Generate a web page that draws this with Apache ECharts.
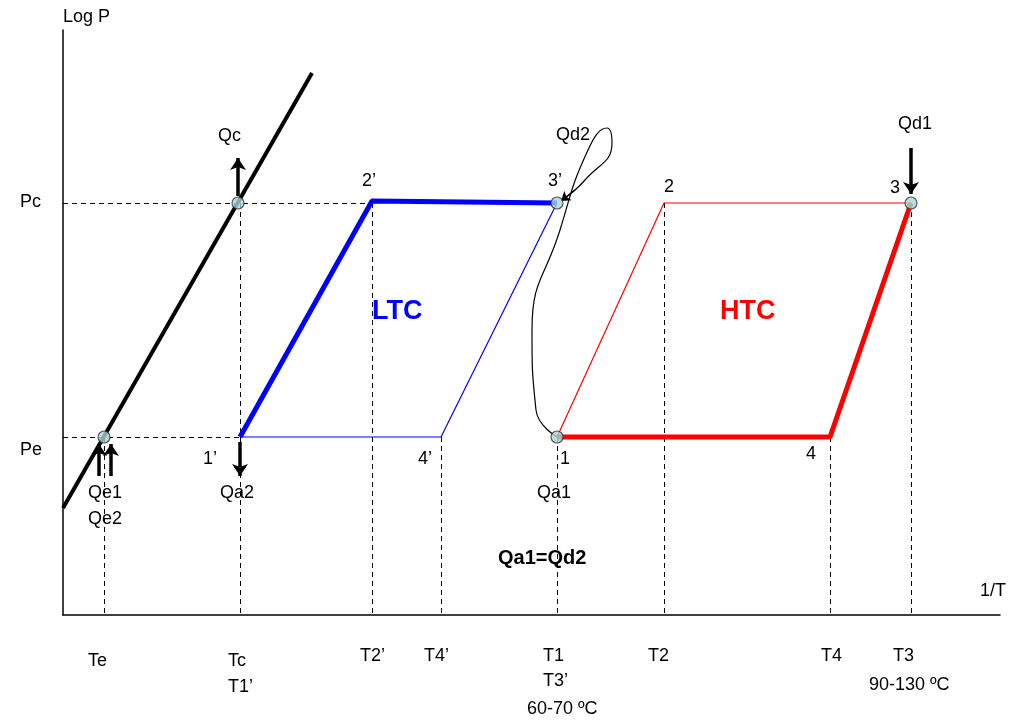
<!DOCTYPE html><html><head><meta charset="utf-8">
<script src="https://cdn.jsdelivr.net/npm/echarts@6/dist/echarts.min.js"></script>
<style>html,body{margin:0;background:#fff}#c{width:1024px;height:725px}</style></head><body><div id="c"></div>
<script>
// schematic coordinates: x = horizontal position, y = height above bottom (pixel-like units)
const Y = p => 725 - p;
const satLine = [[63, Y(508)], [312, Y(73)]];
const ltcThick = [[240, Y(437)], [372, Y(201)], [557, Y(203)]];
const ltcThin = [[557, Y(203)], [441, Y(437)], [240, Y(437)]];
const htcThick = [[911, Y(203)], [830, Y(437)], [557, Y(437)]];
const htcThin = [[557, Y(437)], [664, Y(203)], [911, Y(203)]];
const loopCurve = [[557, Y(437)], [536, Y(410)], [532, Y(330)], [560, Y(230)], [588, Y(150)], [607, Y(128)], [612, Y(143)], [585, Y(180)], [562, Y(200)]];
const dashed = [
  [[63, Y(203)], [372, Y(203)]], [[63, Y(437)], [240, Y(437)]],
  [[104, Y(437)], [104, Y(615)]], [[240, Y(203)], [240, Y(615)]],
  [[372, Y(203)], [372, Y(615)]], [[441, Y(437)], [441, Y(615)]],
  [[557, Y(437)], [557, Y(615)]], [[664, Y(203)], [664, Y(615)]],
  [[830, Y(437)], [830, Y(615)]], [[911, Y(203)], [911, Y(615)]]
];
const arrows = [
  [[238, Y(196)], [238, Y(158)]], [[240, Y(442)], [240, Y(476)]],
  [[911, Y(148)], [911, Y(194)]], [[99, Y(476)], [99, Y(444)]], [[111, Y(476)], [111, Y(444)]]
];
const nodes = [[238, Y(203)], [104, Y(437)], [557, Y(203)], [557, Y(437)], [911, Y(203)]];
const texts = [
  ['Log P', 63, 18], ['Pc', 20, 203], ['Pe', 20, 451], ['1/T', 980, 592],
  ['Te', 88, 662], ['Tc', 228, 662], ['T1’', 228, 688], ['T2’', 360, 657], ['T4’', 424, 657],
  ['T1', 543, 657], ['T3’', 543, 682], ['60-70 ºC', 527, 710], ['T2', 648, 657], ['T4', 821, 657],
  ['T3', 893, 657], ['90-130 ºC', 869, 686],
  ['Qc', 218, 137], ['2’', 362, 182], ['3’', 548, 182], ['Qd2', 556, 136], ['2', 664, 188],
  ['3', 890, 189], ['Qd1', 898, 125], ['1’', 203, 460], ['4’', 418, 460], ['1', 560, 460],
  ['4', 806, 455], ['Qe1', 88, 494], ['Qe2', 88, 520], ['Qa2', 220, 494], ['Qa1', 537, 494]
];
const bold = [['LTC', 372, 312, '#0000ff', 27], ['HTC', 720, 312, '#ff0000', 27], ['Qa1=Qd2', 498, 558, '#000', 20]];

const ch = echarts.init(document.getElementById('c'));
const seg = (d, c, w, t) => ({type: 'line', data: d, symbol: 'none', lineStyle: {color: c, width: w, type: t || 'solid'}, silent: true, z: 3});
const series = [
  seg(satLine, '#000', 4), seg(ltcThick, '#0000ff', 5), seg(ltcThin, '#0000ff', 1.2),
  seg(htcThick, '#ff0000', 5), seg(htcThin, '#ff0000', 1.2),
  Object.assign(seg(loopCurve, '#000', 1.2), {smooth: 0.5}),
  {type: 'lines', coordinateSystem: 'cartesian2d', polyline: false, data: dashed.map(c => ({coords: c})),
   lineStyle: {color: '#000', width: 1, type: [5, 4], opacity: 1}, z: 1},
  {type: 'lines', coordinateSystem: 'cartesian2d', data: arrows.map(c => ({coords: c})), symbol: ['none', 'arrow'], symbolSize: 12,
   lineStyle: {color: '#000', width: 3.5, opacity: 1}, z: 4},
  {type: 'lines', coordinateSystem: 'cartesian2d', data: [{coords: [[575, Y(190)], [561, Y(201)]]}], symbol: ['none', 'arrow'], symbolSize: 9,
   lineStyle: {color: '#000', width: 1.2, opacity: 1}, z: 4},
  {type: 'scatter', data: nodes, symbolSize: 12, itemStyle: {color: '#a9d6d6', borderColor: '#333', borderWidth: 1.2}, z: 5}
];
const graphic = texts.map(t => ({type: 'text', left: t[1], top: t[2] - 10, style: {text: t[0], font: '18px "Liberation Sans", Arial', fill: '#000'}}))
  .concat(bold.map(t => ({type: 'text', left: t[1], top: t[2] - t[4] / 2, style: {text: t[0], font: 'bold ' + t[4] + 'px "Liberation Sans", Arial', fill: t[3]}})));
ch.setOption({
  animation: false,
  grid: {left: 63, right: 24, top: 30, bottom: 110},
  xAxis: {type: 'value', min: 63, max: 1000, axisLine: {lineStyle: {color: '#000', width: 1.5}}, axisTick: {show: false}, axisLabel: {show: false}, splitLine: {show: false}},
  yAxis: {type: 'value', min: 110, max: 695, axisLine: {show: true, lineStyle: {color: '#000', width: 1.5}}, axisTick: {show: false}, axisLabel: {show: false}, splitLine: {show: false}},
  series, graphic
});
</script></body></html>
